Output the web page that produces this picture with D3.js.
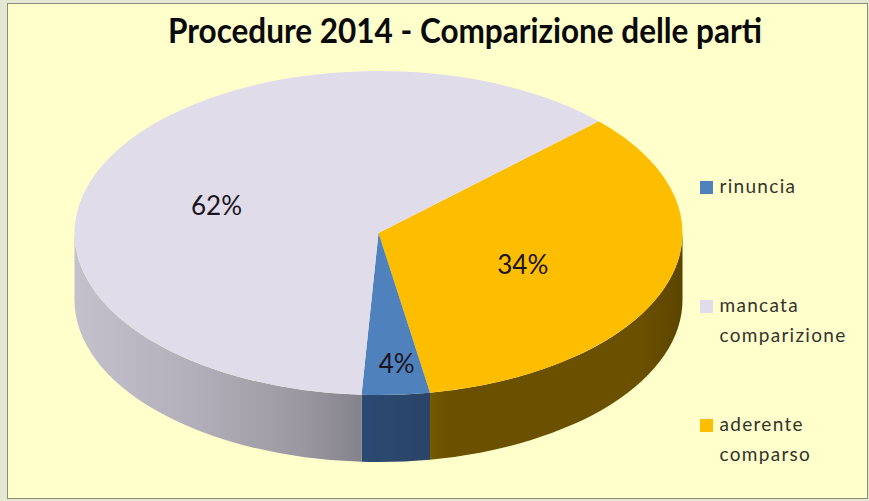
<!DOCTYPE html>
<html>
<head>
<meta charset="utf-8">
<script src="https://cdn.jsdelivr.net/npm/d3@7"></script>
<style>
  html, body { margin: 0; padding: 0; background: #e6e8d4; }
  svg { display: block; }
  text { font-family: Lato, "Open Sans", sans-serif; }
</style>
</head>
<body>
<svg id="chart" width="869" height="501"></svg>
<script>
const title = 'Procedure 2014 - Comparizione delle parti';

// clockwise from the gold slice
const categories = ['aderente comparso', 'rinuncia', 'mancata comparizione'];
const values = [34.4, 3.6, 62];
const legendOrder = ['rinuncia', 'mancata comparizione', 'aderente comparso'];
const legendLines = [['rinuncia'], ['mancata', 'comparizione'], ['aderente', 'comparso']];
const topColors = ['#fdbd00', '#4f81bd', '#e0dce9'];

const svg = d3.select('#chart');
const width = +svg.attr('width');
const height = +svg.attr('height');

// chart frame
svg.append('rect')
  .attr('x', 7.5).attr('y', 3.5)
  .attr('width', width - 9).attr('height', height - 6)
  .attr('fill', '#ffffcc')
  .attr('stroke', '#8c8c7c');

svg.append('text')
  .attr('x', 465).attr('y', 43)
  .attr('text-anchor', 'middle')
  .attr('font-size', 34)
  .attr('font-weight', 700)
  .attr('fill', '#0a0a0a')
  .attr('textLength', 594)
  .attr('lengthAdjust', 'spacingAndGlyphs')
  .text(title);

// pie geometry, squashed circle + wall
const cx = 378.5, cy = 233, rx = 304, ry = 162, depth = 67;
const startAngle = 46.4 * Math.PI / 180;

const pie = d3.pie()
  .sort(null)
  .startAngle(startAngle)
  .endAngle(startAngle + 2 * Math.PI);
const slices = pie(values);

const color = d3.scaleOrdinal().domain(categories).range(topColors);
const arc = d3.arc().innerRadius(0).outerRadius(rx);

const px = a => cx + rx * Math.sin(a);
const py = a => cy - ry * Math.cos(a);

// wall gradients, one per slice
const defs = svg.append('defs');
const wallStops = [
  [[431, '#755800'], [446, '#6b5000'], [640, '#6b5000'], [682, '#5c4500']],
  [[362, '#2b4a72'], [431, '#2b4468']],
  [[75, '#c4c0cc'], [200, '#b2aeb9'], [300, '#9b98a1'], [362, '#84828a']]
];
wallStops.forEach((stops, i) => {
  const g = defs.append('linearGradient')
    .attr('id', `wall${i}`)
    .attr('gradientUnits', 'userSpaceOnUse')
    .attr('x1', stops[0][0]).attr('x2', stops[stops.length - 1][0])
    .attr('y1', 0).attr('y2', 0);
  const x = d3.scaleLinear()
    .domain([stops[0][0], stops[stops.length - 1][0]])
    .range([0, 1]);
  stops.forEach(s => g.append('stop').attr('offset', x(s[0])).attr('stop-color', s[1]));
});

// only the front half of the rim is visible
const frontFrom = Math.PI / 2, frontTo = 3 * Math.PI / 2;
const walls = svg.append('g').attr('class', 'walls');
slices.forEach((d, i) => {
  const a0 = Math.max(d.startAngle, frontFrom);
  const a1 = Math.min(d.endAngle, frontTo);
  if (a1 <= a0) return;
  walls.append('path')
    .attr('d', `M${px(a0)},${py(a0)}A${rx},${ry} 0 0 1 ${px(a1)},${py(a1)}` +
      `L${px(a1)},${py(a1) + depth}A${rx},${ry} 0 0 0 ${px(a0)},${py(a0) + depth}Z`)
    .attr('fill', `url(#wall${i})`);
});

// top face
const topFace = svg.append('g')
  .attr('class', 'top-face')
  .attr('transform', `translate(${cx},${cy}) scale(1,${ry / rx})`);
topFace.selectAll('path')
  .data(slices)
  .join('path')
  .attr('d', arc)
  .attr('fill', (d, i) => color(categories[i]));

// percent labels: radial fraction along the mid angle, then a small nudge
const labelRadius = [0.5, 0.81, 0.587];
const labelNudge = [[0, 16], [4, 9], [0, 22]];
const pct = d3.format('.0f');
slices.forEach((d, i) => {
  const mid = (d.startAngle + d.endAngle) / 2;
  const f = labelRadius[i];
  svg.append('text')
    .attr('x', cx + f * rx * Math.sin(mid) + labelNudge[i][0])
    .attr('y', cy - f * ry * Math.cos(mid) + labelNudge[i][1])
    .attr('text-anchor', 'middle')
    .attr('font-size', 26)
    .attr('fill', '#1a1420')
    .text(`${pct(d.data)}%`);
});

// legend
const legendY = d3.scalePoint().domain(legendOrder).range([193, 431]);
const legend = svg.selectAll('g.legend-item')
  .data(legendOrder)
  .join('g')
  .attr('class', 'legend-item')
  .attr('transform', d => `translate(700,${legendY(d)})`);
legend.append('rect')
  .attr('y', -12).attr('width', 13).attr('height', 13)
  .attr('fill', d => color(d));
legend.each(function (d, i) {
  d3.select(this).selectAll('text')
    .data(legendLines[i])
    .join('text')
    .attr('x', 19.5)
    .attr('y', (l, j) => j * 29.5)
    .attr('font-size', 19)
    .attr('letter-spacing', 1.3)
    .attr('fill', '#33332c')
    .text(l => l);
});
</script>
</body>
</html>
